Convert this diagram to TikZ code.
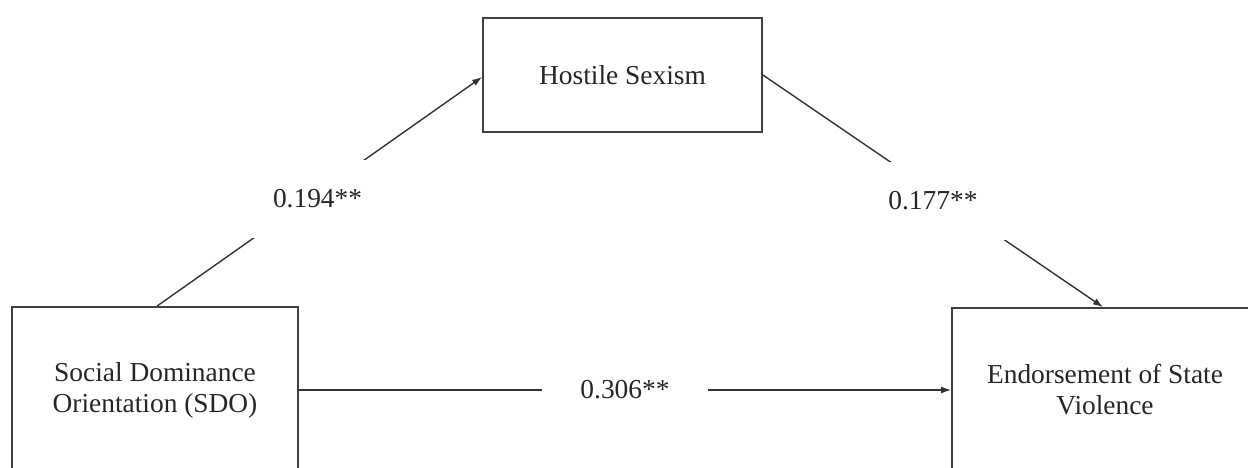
\documentclass[tikz,border=0pt]{standalone}
\usepackage{fontspec}
\setmainfont{Liberation Serif}
\usetikzlibrary{arrows.meta}
\begin{document}
\begin{tikzpicture}[x=1pt,y=-1pt,
  every node/.style={font=\fontsize{27.4}{31}\selectfont, text=black!85},
  varbox/.style={draw=black!75, line width=1.8pt, rectangle, inner sep=0pt, align=center},
  path/.style={draw=black!80, line width=1.4pt},
  arr/.style={path, -{Latex[length=10pt,width=7pt]}},
  coef/.style={fill=white, inner sep=0pt, minimum width=166pt, minimum height=78pt}]
\useasboundingbox (0,0) rectangle (1248,468);
\clip (0,0) rectangle (1248,468);
\fill[white] (0,0) rectangle (1248,468);
\node[varbox, minimum width=279pt, minimum height=114pt] (hs) at (622.5,75) {Hostile Sexism};
\node[varbox, minimum width=286pt, minimum height=166pt] (sdo) at (155,390) {Social Dominance\\Orientation (SDO)};
\node[varbox, minimum width=306pt, minimum height=164pt] (esv) at (1105,390) {Endorsement of State\\Violence};
\draw[arr] ([xshift=2pt]sdo.north) -- node[coef, pos=0.5, xshift=-2pt, yshift=-7pt] (c1) {0.194**} ([yshift=-2pt]hs.west);
\draw[arr] (hs.east) -- node[coef, pos=0.5, yshift=-10pt] (c2) {0.177**} ([xshift=-2pt]esv.north);
\draw[arr] (sdo.east) -- node[coef, pos=0.5, xshift=0pt] (c3) {0.306**} (esv.west);
\end{tikzpicture}
\end{document}
